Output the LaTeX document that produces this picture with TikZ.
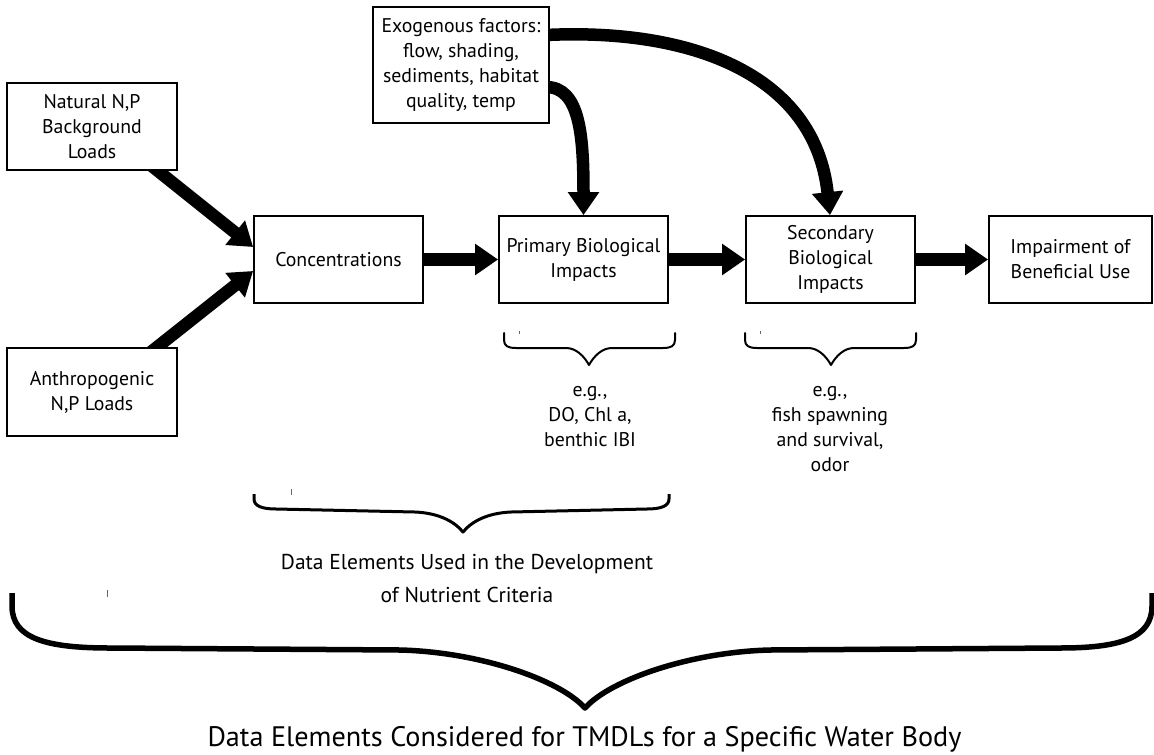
\documentclass[tikz,border=0pt]{standalone}
\usepackage{fontspec}
\setmainfont{PT Sans}
\usetikzlibrary{arrows.meta,backgrounds}
\newcommand\boxfont{\fontsize{19.8}{25}\selectfont}
\newcommand\midfont{\fontsize{21.5}{33}\selectfont}
\newcommand\botfont{\fontsize{28.2}{34}\selectfont}
\begin{document}
\begin{tikzpicture}[x=1pt,y=-1pt,
  box/.style={draw,line width=1.8pt,fill=white,inner sep=0pt,align=center,
    font=\boxfont,minimum width=169pt,minimum height=87pt},
  flow/.style={line width=12.5pt,-{Triangle[length=23pt,width=30pt]}},
  note/.style={inner sep=0pt,align=center,font=\boxfont},
  smallbrace/.style={line width=2pt,line join=round,line cap=round},
  tick/.style={line width=1pt,black!60}]
\useasboundingbox (0,0) rectangle (1154,755);

% process boxes
\node[box,minimum width=170pt] (nat) at (92,126.5) {Natural N,P\\Background\\Loads};
\node[box,minimum width=170pt,minimum height=88pt] (anth) at (92,392) {Anthropogenic\\N,P Loads};
\node[box] (conc) at (338.5,259.5) {Concentrations};
\node[box] (prim) at (583.5,259.5) {Primary Biological\\Impacts};
\node[box] (sec) at (830.5,259.5) {Secondary\\Biological\\Impacts};
\node[box,minimum width=163pt] (imp) at (1070.5,259.5) {Impairment of\\Beneficial Use};
\node[box,minimum width=176pt,minimum height=116pt] (exo) at (461,65)
  {Exogenous factors:\\flow, shading,\\sediments, habitat\\quality, temp};

% thick flow arrows, kept behind the boxes
\begin{scope}[on background layer]
  \draw[flow] ([xshift=56pt,yshift=8pt]nat.south) -- ([yshift=12.5pt]conc.west);
  \draw[flow] ([xshift=55pt,yshift=-8pt]anth.north) -- ([yshift=-11.5pt]conc.west);
  \draw[flow] ([xshift=-4pt]conc.east) -- (prim.west);
  \draw[flow] ([xshift=-4pt]prim.east) -- (sec.west);
  \draw[flow] ([xshift=-4pt]sec.east) -- (imp.west);
  \draw[flow] ([xshift=-4pt,yshift=-22pt]exo.east)
    .. controls +(34,0) and +(0,-80) .. (prim.north);
  \draw[flow] ([xshift=-4pt,yshift=30pt]exo.east)
    .. controls +(145,-7) and +(-15,-141) .. ([xshift=-0.5pt]sec.north);
\end{scope}

% brace under the primary impacts
\draw[smallbrace] (504,333) -- (504,340) .. controls (504,346) and (508,348) .. (516,348)
  -- (566,348) .. controls (576,348) and (584,356) .. (589,365)
  .. controls (594,356) and (602,348) .. (612,348)
  -- (663,348) .. controls (671,348) and (675,346) .. (675,340) -- (675,333);
\draw[tick] (519,331) -- (519,334);
\node[note] (eg1) at (590,417) {e.g.,\\DO, Chl a,\\benthic IBI};

% brace under the secondary impacts
\draw[smallbrace] (745,333) -- (745,340) .. controls (745,346) and (749,348) .. (757,348)
  -- (808,348) .. controls (818,348) and (826,356) .. (831,365)
  .. controls (836,356) and (844,348) .. (854,348)
  -- (904,348) .. controls (912,348) and (916,346) .. (916,340) -- (916,333);
\draw[tick] (760,331) -- (760,334);
\node[note] (eg2) at (830,429) {e.g.,\\fish spawning\\and survival,\\odor};

% brace for the nutrient criteria elements
\draw[line width=3pt,line join=round] (254,494) -- (254,499)
  .. controls (254,506) and (262,509) .. (276,509)
  -- (415,512) .. controls (438,513) and (454,521) .. (463,532)
  .. controls (472,521) and (488,513) .. (511,512)
  -- (647,509) .. controls (661,509) and (669,506) .. (669,499) -- (669,494);
\draw[tick] (291,489) -- (291,495);
\node[inner sep=0pt,align=center,font=\midfont] (crit) at (467,578.5)
  {Data Elements Used in the Development\\of Nutrient Criteria};

% brace for the whole water body
\draw[line width=5.5pt,line join=round] (12,593) -- (12,606)
  .. controls (12,638) and (45,648) .. (110,648)
  -- (400,650) .. controls (480,652) and (560,680) .. (585,708)
  .. controls (610,680) and (690,652) .. (770,650)
  -- (1060,648) .. controls (1120,648) and (1152,638) .. (1152,606) -- (1152,593);
\draw[tick] (107,590) -- (107,597);
\node[inner sep=0pt,font=\botfont] (tmdl) at (584.5,739)
  {Data Elements Considered for TMDLs for a Specific Water Body};
\end{tikzpicture}
\end{document}
